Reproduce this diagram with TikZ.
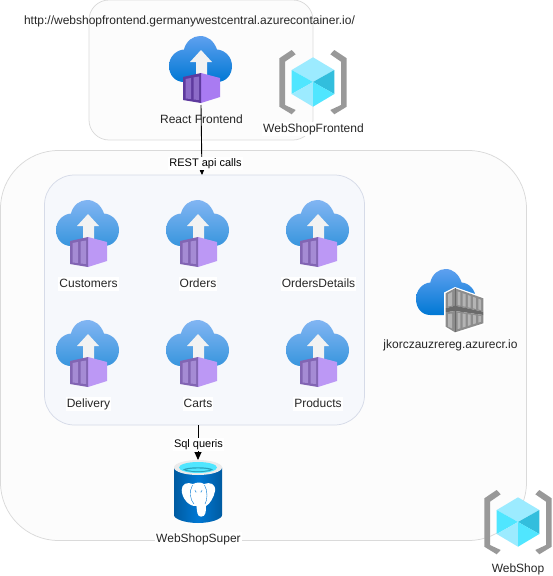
\documentclass[tikz,border=0pt]{standalone}
\usepackage{fontspec}
\setmainfont{Liberation Sans}
\usetikzlibrary{arrows.meta}
\definecolor{cloudA}{HTML}{5EA0EF}
\definecolor{cloudB}{HTML}{0078D4}
\definecolor{boxL}{HTML}{5E3A9E}
\definecolor{boxLi}{HTML}{8C6BC8}
\definecolor{boxR}{HTML}{A97BF2}
\definecolor{arrowW}{HTML}{F2F2F2}
\definecolor{hexLight}{HTML}{9CEBFF}
\definecolor{hexMid}{HTML}{50E6FF}
\definecolor{hexDark}{HTML}{32BEDD}
\definecolor{brk}{HTML}{999999}
\definecolor{grpLine}{HTML}{DADADA}
\definecolor{innerLine}{HTML}{D6DBE8}
\definecolor{innerFill}{HTML}{F6F8FC}
\definecolor{pgDark}{HTML}{005BA1}
\definecolor{pgMid}{HTML}{0078D4}
\definecolor{regD}{HTML}{6A6A6A}
\definecolor{regF}{HTML}{8C8C8C}
\definecolor{regL}{HTML}{B4B4B4}
\def\cloudpath{(15,46) .. controls (6,46) and (0,39) .. (0,30) .. controls (0,21) and (7,14) .. (15,13.5) .. controls (17,5) and (24,0) .. (31,0) .. controls (39,0) and (45,5) .. (48,13.5) .. controls (56,14) and (63,21) .. (63,30) .. controls (63,39) and (57,46) .. (48,46) -- cycle}
\tikzset{
  x=1pt,y=-1pt,
  lbl/.style={font=\fontsize{12}{14}\selectfont,text=black!85,inner sep=1pt,text height=9pt,text depth=2.5pt,yshift=-1pt},
  lblbg/.style={lbl,fill=white},
  edgelbl/.style={font=\fontsize{11}{13}\selectfont,text=black,fill=white,inner sep=1pt,text height=8pt,text depth=2.5pt,yshift=-1.5pt},
  grp/.style={draw=grpLine,fill=white!99!black,line width=.75pt,inner sep=0pt},
  conn/.style={draw=black,line width=.9pt},
  tip/.style={-{Triangle[length=8pt,width=7pt]}},
  pics/appsvc/.style={code={
    \shade[top color=cloudA!#1!white,bottom color=cloudB!#1!white] \cloudpath;
    \fill[arrowW] (32,14) -- (43,26) -- (38,26) -- (38,40) -- (27,40) -- (27,26) -- (21,26) -- cycle;
    \fill[boxR!#1!white] (32,37) -- (51,42) -- (51,61) -- (32,67) -- cycle;
    \fill[boxL!#1!white] (14,41) -- (32,37) -- (32,67) -- (14,64) -- cycle;
    \fill[boxLi!#1!white] (16.5,43) -- (22,42) -- (22,63) -- (16.5,62.5) -- cycle;
    \fill[boxLi!#1!white] (24.5,41.5) -- (30,40.5) -- (30,64) -- (24.5,63.5) -- cycle;
  }},
  pics/hexicon/.style={code={
    \fill[brk] (0.3,8.3) -- (12.7,0) -- (16.7,4.3) -- (6,11.7) -- (6,55) -- (16.7,60) -- (12.7,64.3) -- (0.3,56.7) -- cycle;
    \fill[brk] (67.7,8.3) -- (55.3,0) -- (51.3,4.3) -- (62,11.7) -- (62,55) -- (51.3,60) -- (55.3,64.3) -- (67.7,56.7) -- cycle;
    \fill[hexLight] (34,7.3) -- (55.3,20) -- (34,32) -- (12.7,20) -- cycle;
    \fill[hexMid] (12.7,20) -- (34,32) -- (12.7,44) -- cycle;
    \fill[hexDark] (55.3,20) -- (34,32) -- (55.3,44) -- cycle;
    \fill[hexLight] (12.7,44) -- (34,32) -- (34,56.7) -- cycle;
    \fill[hexMid] (55.3,44) -- (34,32) -- (34,56.7) -- cycle;
  }},
  pics/registry/.style={code={
    \shade[top color=cloudA,bottom color=cloudB,xscale=.95] \cloudpath;
    \fill[white] (28,23.5) -- (39,18) -- (69,28.5) -- (69,55.5) -- (39,65) -- (28,58.5) -- cycle;
    \fill[regF] (29.7,24.3) -- (39,19.3) -- (67.3,29.3) -- (67.3,42.7) -- (39,36.7) -- (29.7,39.3) -- cycle;
    \fill[regD] (29.7,39.3) -- (39,36.7) -- (67.3,42.7) -- (67.3,46) -- (39,42) -- (29.7,43.3) -- cycle;
    \fill[regF] (29.7,43.3) -- (39,42) -- (67.3,46) -- (67.3,54.3) -- (39,63.3) -- (29.7,57.7) -- cycle;
    \draw[regD,line width=.5pt] (39,19.3) -- (39,36.7) (39,42) -- (39,63.3);
    \foreach \i in {0,...,4}{
      \pgfmathsetmacro{\xa}{41.5+\i*5.2}
      \pgfmathsetmacro{\xb}{\xa+2.8}
      \fill[regL] (\xa,{21.5+(\xa-39)*.353}) -- (\xb,{21.5+(\xb-39)*.353}) -- (\xb,{35.5+(\xb-39)*.212}) -- (\xa,{35.5+(\xa-39)*.212}) -- cycle;
      \fill[regL] (\xa,{43.5+(\xa-39)*.14}) -- (\xb,{43.5+(\xb-39)*.14}) -- (\xb,{61-(\xb-39)*.318}) -- (\xa,{61-(\xa-39)*.318}) -- cycle;
    }
    \fill[regL] (32,25) -- (36,23) -- (36,36.5) -- (32,37.5) -- cycle;
    \fill[regL] (32,45) -- (36,44.5) -- (36,59.5) -- (32,57.5) -- cycle;
  }},
  pics/pgicon/.style={code={
    \shade[left color=pgDark,right color=pgDark,middle color=pgMid] (0,7.5) -- (0,55) .. controls (0,59) and (11,63) .. (24,63) .. controls (37,63) and (48,59) .. (48,55) -- (48,7.5) -- cycle;
    \fill[black!8] (24,7.5) ellipse [x radius=24,y radius=7.5];
    \fill[hexMid] (24,7.5) ellipse [x radius=19,y radius=5.5];
    \fill[hexDark!85!black] (9,9.5) .. controls (14,6.5) and (34,6.5) .. (39,9.5) .. controls (34,13) and (14,13) .. (9,9.5) -- cycle;
    \fill[hexMid] (12,9.8) .. controls (18,8) and (30,8) .. (36,9.8) .. controls (30,11.5) and (18,11.5) .. (12,9.8) -- cycle;
    \fill[white] (7.7,30) .. controls (7.7,24) and (13,21.5) .. (19,24) .. controls (23,22) and (27,22) .. (30,24) .. controls (36,21.5) and (42,24) .. (41,31) .. controls (40,37) and (36,44) .. (32,46) .. controls (32,51) and (32,56.7) .. (27,56.7) .. controls (23,56.7) and (23,51) .. (22.5,46) .. controls (15,47) and (7.7,38) .. (7.7,30) -- cycle;
    \draw[pgMid,line width=.4pt] (18.5,25) .. controls (15,31) and (16,40) .. (20,44);
    \draw[pgMid,line width=.4pt] (30.5,25) .. controls (34,31) and (33.5,40) .. (31,44);
    \draw[pgMid,line width=.4pt] (21,30) .. controls (20.5,31.5) and (22,33) .. (23,32);
    \draw[pgMid,line width=.4pt] (28,30) .. controls (28.5,31.5) and (27,33) .. (26,32);
  }},
}
\begin{document}
\begin{tikzpicture}
\useasboundingbox (0,0) rectangle (553,576);
% groups
\node[grp,rounded corners=20pt,minimum width=224pt,minimum height=140pt] (frontgrp) at (201,70) {};
\node[grp,rounded corners=58pt,minimum width=526pt,minimum height=390pt] (maingrp) at (263.5,345.5) {};
\node[draw=innerLine,fill=innerFill,line width=.75pt,inner sep=0pt,rounded corners=30pt,minimum width=320pt,minimum height=250pt] (innergrp) at (204.5,300) {};
% icons
\pic at (169,36) {appsvc=100};
\pic at (279,50) {hexicon};
\foreach \px/\py in {56/200,166/200,286/200,56/320,166/320,286/320}
  \pic at (\px,\py) {appsvc=78};
\pic at (416,269) {registry};
\pic at (174,460) {pgicon};
\pic at (484,490) {hexicon};
% labels
\node[lbl] (url) at (189.5,20) {http://webshopfrontend.germanywestcentral.azurecontainer.io/};
\node[lbl] (react) at (201.5,119) {React Frontend};
\node[lblbg] (wsf) at (313.5,128) {WebShopFrontend};
\node[lblbg] (cust) at (88.5,283) {Customers};
\node[lblbg] (orders) at (198,283) {Orders};
\node[lblbg] (odet) at (318.5,283) {OrdersDetails};
\node[lblbg] (deliv) at (88.5,403) {Delivery};
\node[lblbg] (carts) at (198,403) {Carts};
\node[lblbg] (prod) at (318,403) {Products};
\node[lbl] (reg) at (450.5,344) {jkorczauzrereg.azurecr.io};
\node[lblbg] (super) at (198.5,538) {WebShopSuper};
\node[lblbg] (ws) at (518,568) {WebShop};
% connectors
\coordinate (reactout) at (201,105);
\coordinate (restin) at (202,175);
\coordinate (sqlout) at (198,425);
\coordinate (pgin) at (198,460);
\draw[conn,tip] (reactout) -- (restin);
\draw[conn,tip] (sqlout) -- (pgin);
\node[edgelbl] (restlbl) at (205.5,162) {REST api calls};
\node[edgelbl] (sqllbl) at (198.5,443) {Sql queris};
\end{tikzpicture}
\end{document}
